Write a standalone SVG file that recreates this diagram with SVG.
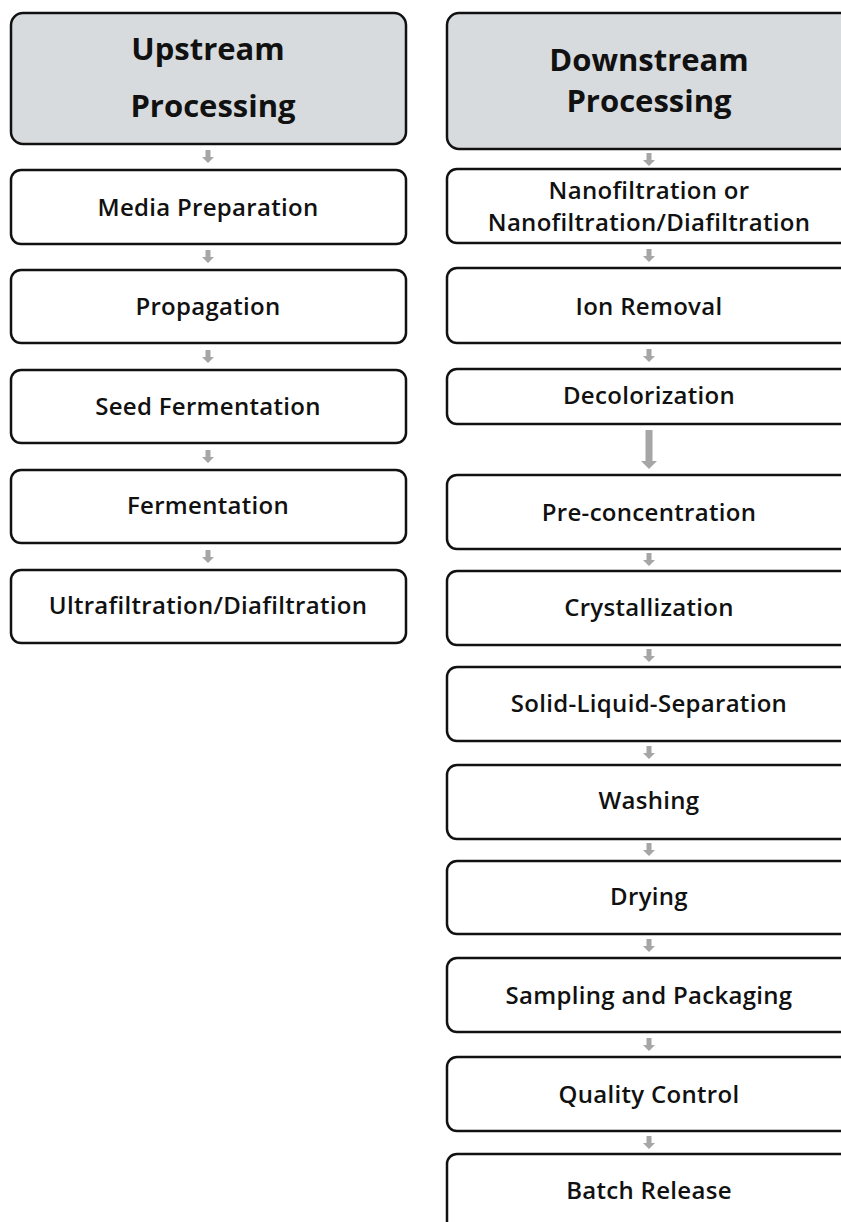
<svg xmlns="http://www.w3.org/2000/svg" width="841" height="1222" viewBox="0 0 841 1222">
<style>
.box{fill:#ffffff;stroke:#111111;stroke-width:2.5}
.hdr{fill:#d8dbde;stroke:#111111;stroke-width:2.5}
.t{font-family:"Open Sans",Lato,sans-serif;font-weight:600;font-size:24px;letter-spacing:0.3px;fill:#111111;text-anchor:middle;dominant-baseline:central}
.h{font-family:"Open Sans",Lato,sans-serif;font-weight:700;font-size:31px;fill:#111111;text-anchor:middle;dominant-baseline:central}
.arr{fill:#a6a6a6}
</style>
<rect width="841" height="1222" fill="#ffffff"/>
<g id="connectors">
<path class="arr" d="M205.5,150h5v7h3.5l-6,6l-6,-6h3.5z"/>
<path class="arr" d="M205.5,250h5v7h3.5l-6,6l-6,-6h3.5z"/>
<path class="arr" d="M205.5,350h5v7h3.5l-6,6l-6,-6h3.5z"/>
<path class="arr" d="M205.5,450h5v7h3.5l-6,6l-6,-6h3.5z"/>
<path class="arr" d="M205.5,550h5v7h3.5l-6,6l-6,-6h3.5z"/>
<path class="arr" d="M646.5,153h5v7h3.5l-6,6l-6,-6h3.5z"/>
<path class="arr" d="M646.5,249h5v7h3.5l-6,6l-6,-6h3.5z"/>
<path class="arr" d="M646.5,349h5v7h3.5l-6,6l-6,-6h3.5z"/>
<path class="arr" d="M645.5,430h7v31h4.5l-8,8l-8,-8h4.5z"/>
<path class="arr" d="M646.5,553h5v7h3.5l-6,6l-6,-6h3.5z"/>
<path class="arr" d="M646.5,649h5v7h3.5l-6,6l-6,-6h3.5z"/>
<path class="arr" d="M646.5,746h5v7h3.5l-6,6l-6,-6h3.5z"/>
<path class="arr" d="M646.5,843h5v7h3.5l-6,6l-6,-6h3.5z"/>
<path class="arr" d="M646.5,939h5v7h3.5l-6,6l-6,-6h3.5z"/>
<path class="arr" d="M646.5,1038h5v7h3.5l-6,6l-6,-6h3.5z"/>
<path class="arr" d="M646.5,1136h5v7h3.5l-6,6l-6,-6h3.5z"/>
</g>
<g id="upstream-header"><rect class="hdr" x="11" y="13" width="395" height="131" rx="12"/><text class="h" x="208" y="48">Upstream</text><text class="h" x="213" y="105">Processing</text></g>
<g id="media-preparation"><rect class="box" x="11" y="170" width="395" height="74" rx="10"/><text class="t" x="208" y="206">Media Preparation</text></g>
<g id="propagation"><rect class="box" x="11" y="270" width="395" height="73" rx="10"/><text class="t" x="208" y="305">Propagation</text></g>
<g id="seed-fermentation"><rect class="box" x="11" y="370" width="395" height="73" rx="10"/><text class="t" x="208" y="405">Seed Fermentation</text></g>
<g id="fermentation"><rect class="box" x="11" y="470" width="395" height="73" rx="10"/><text class="t" x="208" y="504">Fermentation</text></g>
<g id="ultrafiltration"><rect class="box" x="11" y="570" width="395" height="73" rx="10"/><text class="t" x="208" y="604">Ultrafiltration/Diafiltration</text></g>
<g id="downstream-header"><rect class="hdr" x="447" y="13" width="410" height="136" rx="12"/><text class="h" x="649" y="59">Downstream</text><text class="h" x="649" y="100">Processing</text></g>
<g id="nanofiltration"><rect class="box" x="447" y="169" width="410" height="74" rx="10"/><text class="t" x="649" y="189">Nanofiltration or</text><text class="t" x="649" y="221">Nanofiltration/Diafiltration</text></g>
<g id="ion-removal"><rect class="box" x="447" y="268" width="410" height="75" rx="10"/><text class="t" x="649" y="305">Ion Removal</text></g>
<g id="decolorization"><rect class="box" x="447" y="369" width="410" height="55" rx="10"/><text class="t" x="649" y="394">Decolorization</text></g>
<g id="pre-concentration"><rect class="box" x="447" y="475" width="410" height="74" rx="10"/><text class="t" x="649" y="511">Pre-concentration</text></g>
<g id="crystallization"><rect class="box" x="447" y="571" width="410" height="74" rx="10"/><text class="t" x="649" y="606">Crystallization</text></g>
<g id="solid-liquid-separation"><rect class="box" x="447" y="667" width="410" height="74" rx="10"/><text class="t" x="649" y="702">Solid-Liquid-Separation</text></g>
<g id="washing"><rect class="box" x="447" y="765" width="410" height="74" rx="10"/><text class="t" x="649" y="799">Washing</text></g>
<g id="drying"><rect class="box" x="447" y="861" width="410" height="73" rx="10"/><text class="t" x="649" y="895">Drying</text></g>
<g id="sampling-packaging"><rect class="box" x="447" y="958" width="410" height="74" rx="10"/><text class="t" x="649" y="994">Sampling and Packaging</text></g>
<g id="quality-control"><rect class="box" x="447" y="1057" width="410" height="74" rx="10"/><text class="t" x="649" y="1093">Quality Control</text></g>
<g id="batch-release"><rect class="box" x="447" y="1154" width="410" height="90" rx="10"/><text class="t" x="649" y="1189">Batch Release</text></g>
</svg>
